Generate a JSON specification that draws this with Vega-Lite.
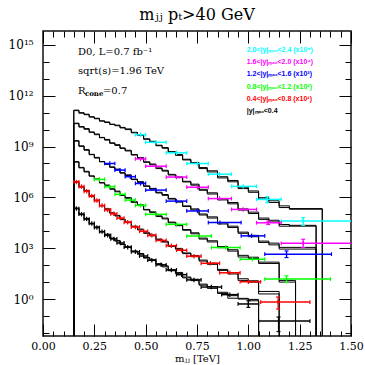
{
"$schema": "https://vega.github.io/schema/vega-lite/v6.json",
"width": 308, "height": 305,
"autosize": {"type": "none"},
"padding": {"left": 43, "top": 31, "right": 14, "bottom": 29},
"background": "white",
"config": {"view": {"stroke": "#111", "strokeWidth": 1.5}, "font": "DejaVu Serif", "axis": {"grid": false, "domain": false, "tickColor": "black", "tickWidth": 1}},
"title": {"text": "mⱼⱼ  pₜ>40 GeV", "fontSize": 16, "fontWeight": "normal", "font": "DejaVu Serif", "offset": 8, "color": "black"},
"datasets": {
"hist": [
{"g":0,"x":0.15,"a":1e-5,"b":1e-5},{"g":0,"x":0.15,"a":2.19e5,"b":2.34e5},{"g":0,"x":0.175,"a":1.02e5,"b":9.55e4},{"g":0,"x":0.2,"a":5.25e4,"b":5.75e4},{"g":0,"x":0.225,"a":2.88e4,"b":2.75e4},{"g":0,"x":0.25,"a":1.66e4,"b":1.82e4},{"g":0,"x":0.275,"a":9550,"b":9120},{"g":0,"x":0.3,"a":6030,"b":6760},{"g":0,"x":0.325,"a":3980,"b":3720},{"g":0,"x":0.35,"a":2630,"b":2880},{"g":0,"x":0.375,"a":1740,"b":1660},{"g":0,"x":0.4,"a":1120,"b":1230},{"g":0,"x":0.43,"a":692,"b":646},{"g":0,"x":0.46,"a":437,"b":490},{"g":0,"x":0.49,"a":282,"b":263},{"g":0,"x":0.52,"a":186,"b":209},{"g":0,"x":0.55,"a":123,"b":112},{"g":0,"x":0.58,"a":79.4,"b":91.2},{"g":0,"x":0.61,"a":51.3,"b":46.8},{"g":0,"x":0.645,"a":31.6,"b":37.2},{"g":0,"x":0.68,"a":20.0,"b":17.8},{"g":0,"x":0.72,"a":12.3,"b":14.8},{"g":0,"x":0.76,"a":7.59,"b":6.61},{"g":0,"x":0.8,"a":4.27,"b":5.5},{"g":0,"x":0.85,"a":2.51,"b":2.14},{"g":0,"x":0.9,"a":1.58,"b":1.12},{"g":0,"x":0.95,"a":1.0,"b":1.1},{"g":0,"x":1.0,"a":0.794,"b":0.955},{"g":0,"x":1.05,"a":1e-5,"b":1e-5},
{"g":1,"x":0.15,"a":1e-5,"b":1e-5},{"g":1,"x":0.15,"a":7.94e6,"b":8.51e6},{"g":1,"x":0.175,"a":4.37e6,"b":4.07e6},{"g":1,"x":0.2,"a":2.29e6,"b":2.51e6},{"g":1,"x":0.225,"a":1.2e6,"b":1.15e6},{"g":1,"x":0.25,"a":6.31e5,"b":6.92e5},{"g":1,"x":0.275,"a":3.31e5,"b":3.16e5},{"g":1,"x":0.3,"a":1.91e5,"b":2.14e5},{"g":1,"x":0.325,"a":1.23e5,"b":1.15e5},{"g":1,"x":0.35,"a":7.94e4,"b":8.71e4},{"g":1,"x":0.375,"a":5.13e4,"b":4.9e4},{"g":1,"x":0.4,"a":3.24e4,"b":3.55e4},{"g":1,"x":0.43,"a":2.0e4,"b":1.86e4},{"g":1,"x":0.46,"a":1.2e4,"b":1.35e4},{"g":1,"x":0.49,"a":8130,"b":7590},{"g":1,"x":0.52,"a":5370,"b":6030},{"g":1,"x":0.55,"a":3470,"b":3160},{"g":1,"x":0.58,"a":2290,"b":2570},{"g":1,"x":0.61,"a":1410,"b":1290},{"g":1,"x":0.645,"a":871,"b":977},{"g":1,"x":0.68,"a":525,"b":479},{"g":1,"x":0.72,"a":316,"b":363},{"g":1,"x":0.76,"a":200,"b":174},{"g":1,"x":0.8,"a":112,"b":132},{"g":1,"x":0.85,"a":56.2,"b":49.0},{"g":1,"x":0.9,"a":30.2,"b":36.3},{"g":1,"x":0.95,"a":15.8,"b":12.6},{"g":1,"x":1.0,"a":10.0,"b":12.0},{"g":1,"x":1.05,"a":2.0,"b":2.82},{"g":1,"x":1.15,"a":1e-5,"b":1e-5},
{"g":2,"x":0.15,"a":1e-5,"b":1e-5},{"g":2,"x":0.15,"a":1.2e8,"b":1.29e8},{"g":2,"x":0.175,"a":5.89e7,"b":5.5e7},{"g":2,"x":0.2,"a":3.16e7,"b":3.47e7},{"g":2,"x":0.225,"a":1.86e7,"b":1.78e7},{"g":2,"x":0.25,"a":1.12e7,"b":1.23e7},{"g":2,"x":0.275,"a":7.41e6,"b":7.08e6},{"g":2,"x":0.3,"a":4.9e6,"b":5.37e6},{"g":2,"x":0.325,"a":3.24e6,"b":3.02e6},{"g":2,"x":0.35,"a":2.14e6,"b":2.34e6},{"g":2,"x":0.375,"a":1.38e6,"b":1.29e6},{"g":2,"x":0.4,"a":8.91e5,"b":9.77e5},{"g":2,"x":0.43,"a":5.5e5,"b":5.13e5},{"g":2,"x":0.46,"a":3.24e5,"b":3.63e5},{"g":2,"x":0.49,"a":1.95e5,"b":1.82e5},{"g":2,"x":0.52,"a":1.26e5,"b":1.41e5},{"g":2,"x":0.55,"a":8.13e4,"b":7.41e4},{"g":2,"x":0.58,"a":5.37e4,"b":6.03e4},{"g":2,"x":0.61,"a":3.47e4,"b":3.16e4},{"g":2,"x":0.645,"a":2.14e4,"b":2.4e4},{"g":2,"x":0.68,"a":1.26e4,"b":1.15e4},{"g":2,"x":0.72,"a":7080,"b":8130},{"g":2,"x":0.76,"a":3980,"b":3470},{"g":2,"x":0.8,"a":2340,"b":2750},{"g":2,"x":0.85,"a":1260,"b":1070},{"g":2,"x":0.9,"a":676,"b":813},{"g":2,"x":0.95,"a":380,"b":302},{"g":2,"x":1.0,"a":251,"b":295},{"g":2,"x":1.05,"a":126,"b":151},{"g":2,"x":1.15,"a":10.0,"b":12.6},{"g":2,"x":1.23,"a":1e-5,"b":1e-5},
{"g":3,"x":0.15,"a":1e-5,"b":1e-5},{"g":3,"x":0.15,"a":2.09e9,"b":2.24e9},{"g":3,"x":0.175,"a":1.1e9,"b":1.02e9},{"g":3,"x":0.2,"a":6.03e8,"b":6.61e8},{"g":3,"x":0.225,"a":3.47e8,"b":3.31e8},{"g":3,"x":0.25,"a":2.09e8,"b":2.29e8},{"g":3,"x":0.275,"a":1.32e8,"b":1.26e8},{"g":3,"x":0.3,"a":8.91e7,"b":9.77e7},{"g":3,"x":0.325,"a":6.31e7,"b":5.89e7},{"g":3,"x":0.35,"a":4.27e7,"b":4.68e7},{"g":3,"x":0.375,"a":2.88e7,"b":2.69e7},{"g":3,"x":0.4,"a":1.95e7,"b":2.14e7},{"g":3,"x":0.43,"a":1.2e7,"b":1.12e7},{"g":3,"x":0.46,"a":7.59e6,"b":8.51e6},{"g":3,"x":0.49,"a":4.79e6,"b":4.47e6},{"g":3,"x":0.52,"a":3.02e6,"b":3.39e6},{"g":3,"x":0.55,"a":2.0e6,"b":1.82e6},{"g":3,"x":0.58,"a":1.32e6,"b":1.48e6},{"g":3,"x":0.61,"a":8.71e5,"b":7.94e5},{"g":3,"x":0.645,"a":5.25e5,"b":5.89e5},{"g":3,"x":0.68,"a":3.16e5,"b":2.88e5},{"g":3,"x":0.72,"a":1.82e5,"b":2.09e5},{"g":3,"x":0.76,"a":1.05e5,"b":9.12e4},{"g":3,"x":0.8,"a":6.03e4,"b":7.08e4},{"g":3,"x":0.85,"a":3.16e4,"b":2.69e4},{"g":3,"x":0.9,"a":1.66e4,"b":2.0e4},{"g":3,"x":0.95,"a":8910,"b":7590},{"g":3,"x":1.0,"a":4790,"b":5750},{"g":3,"x":1.05,"a":2630,"b":2190},{"g":3,"x":1.1,"a":1580,"b":2000},{"g":3,"x":1.15,"a":891,"b":1120},{"g":3,"x":1.33,"a":1e-5,"b":1e-5},
{"g":4,"x":0.15,"a":1e-5,"b":1e-5},{"g":4,"x":0.15,"a":2.24e10,"b":2.4e10},{"g":4,"x":0.175,"a":1.51e10,"b":1.41e10},{"g":4,"x":0.2,"a":1.05e10,"b":1.15e10},{"g":4,"x":0.225,"a":7.24e9,"b":6.92e9},{"g":4,"x":0.25,"a":5.01e9,"b":5.5e9},{"g":4,"x":0.275,"a":3.47e9,"b":3.31e9},{"g":4,"x":0.3,"a":2.4e9,"b":2.63e9},{"g":4,"x":0.325,"a":1.66e9,"b":1.55e9},{"g":4,"x":0.35,"a":1.17e9,"b":1.29e9},{"g":4,"x":0.375,"a":8.32e8,"b":7.76e8},{"g":4,"x":0.4,"a":5.5e8,"b":6.03e8},{"g":4,"x":0.43,"a":3.39e8,"b":3.16e8},{"g":4,"x":0.46,"a":2.0e8,"b":2.24e8},{"g":4,"x":0.49,"a":1.26e8,"b":1.17e8},{"g":4,"x":0.52,"a":8.32e7,"b":9.33e7},{"g":4,"x":0.55,"a":5.5e7,"b":5.01e7},{"g":4,"x":0.58,"a":3.55e7,"b":3.98e7},{"g":4,"x":0.61,"a":2.29e7,"b":2.09e7},{"g":4,"x":0.645,"a":1.45e7,"b":1.62e7},{"g":4,"x":0.68,"a":8.91e6,"b":8.13e6},{"g":4,"x":0.72,"a":5.25e6,"b":6.03e6},{"g":4,"x":0.76,"a":3.02e6,"b":2.63e6},{"g":4,"x":0.8,"a":1.58e6,"b":1.86e6},{"g":4,"x":0.85,"a":8.32e5,"b":7.08e5},{"g":4,"x":0.9,"a":4.17e5,"b":5.01e5},{"g":4,"x":0.95,"a":2.09e5,"b":1.78e5},{"g":4,"x":1.0,"a":1.12e5,"b":1.35e5},{"g":4,"x":1.05,"a":6.03e4,"b":5.01e4},{"g":4,"x":1.1,"a":3.55e4,"b":4.47e4},{"g":4,"x":1.15,"a":2.51e4,"b":2.0e4},{"g":4,"x":1.2,"a":2.0e4,"b":2.24e4},{"g":4,"x":1.33,"a":1e-5,"b":1e-5},
{"g":5,"x":0.15,"a":1e-5,"b":1e-5},{"g":5,"x":0.15,"a":1.32e11,"b":1.41e11},{"g":5,"x":0.175,"a":1.0e11,"b":9.33e10},{"g":5,"x":0.2,"a":7.59e10,"b":8.13e10},{"g":5,"x":0.225,"a":5.75e10,"b":5.5e10},{"g":5,"x":0.25,"a":4.37e10,"b":4.68e10},{"g":5,"x":0.275,"a":3.31e10,"b":3.16e10},{"g":5,"x":0.3,"a":2.63e10,"b":2.82e10},{"g":5,"x":0.325,"a":2.09e10,"b":2.0e10},{"g":5,"x":0.35,"a":1.7e10,"b":1.82e10},{"g":5,"x":0.375,"a":1.35e10,"b":1.26e10},{"g":5,"x":0.4,"a":1.0e10,"b":1.1e10},{"g":5,"x":0.43,"a":6.92e9,"b":6.46e9},{"g":5,"x":0.46,"a":4.57e9,"b":5.01e9},{"g":5,"x":0.49,"a":2.88e9,"b":2.69e9},{"g":5,"x":0.52,"a":1.86e9,"b":2.04e9},{"g":5,"x":0.55,"a":1.2e9,"b":1.12e9},{"g":5,"x":0.58,"a":7.94e8,"b":8.71e8},{"g":5,"x":0.61,"a":5.01e8,"b":4.57e8},{"g":5,"x":0.645,"a":3.02e8,"b":3.39e8},{"g":5,"x":0.68,"a":1.78e8,"b":1.62e8},{"g":5,"x":0.72,"a":1.0e8,"b":1.15e8},{"g":5,"x":0.76,"a":5.75e7,"b":5.01e7},{"g":5,"x":0.8,"a":3.16e7,"b":3.72e7},{"g":5,"x":0.85,"a":1.66e7,"b":1.41e7},{"g":5,"x":0.9,"a":8.32e6,"b":1.0e7},{"g":5,"x":0.95,"a":3.98e6,"b":3.31e6},{"g":5,"x":1.0,"a":2.0e6,"b":2.4e6},{"g":5,"x":1.05,"a":9.55e5,"b":7.94e5},{"g":5,"x":1.1,"a":5.01e5,"b":6.31e5},{"g":5,"x":1.15,"a":3.16e5,"b":2.51e5},{"g":5,"x":1.2,"a":2.0e5,"b":2.19e5},{"g":5,"x":1.36,"a":1e-5,"b":1e-5}
],
"pts": [
{"g":0,"lo":0.15,"hi":0.175,"m":0.1625,"v":2.19e5},{"g":0,"lo":0.175,"hi":0.2,"m":0.1875,"v":1.02e5},{"g":0,"lo":0.2,"hi":0.225,"m":0.2125,"v":5.25e4},{"g":0,"lo":0.225,"hi":0.25,"m":0.2375,"v":2.88e4},{"g":0,"lo":0.25,"hi":0.275,"m":0.2625,"v":1.66e4},{"g":0,"lo":0.275,"hi":0.3,"m":0.2875,"v":9550},{"g":0,"lo":0.3,"hi":0.33,"m":0.315,"v":5750},{"g":0,"lo":0.33,"hi":0.36,"m":0.345,"v":3550},{"g":0,"lo":0.36,"hi":0.395,"m":0.3775,"v":2040},{"g":0,"lo":0.395,"hi":0.43,"m":0.4125,"v":1150},{"g":0,"lo":0.43,"hi":0.47,"m":0.45,"v":617},{"g":0,"lo":0.47,"hi":0.51,"m":0.49,"v":347},{"g":0,"lo":0.51,"hi":0.55,"m":0.53,"v":195},{"g":0,"lo":0.55,"hi":0.6,"m":0.575,"v":105},{"g":0,"lo":0.6,"hi":0.65,"m":0.625,"v":52.5},{"g":0,"lo":0.65,"hi":0.7,"m":0.675,"v":27.5},{"g":0,"lo":0.7,"hi":0.77,"m":0.735,"v":13.5},{"g":0,"lo":0.77,"hi":0.87,"m":0.82,"v":5.13},{"g":0,"lo":0.87,"hi":0.95,"m":0.91,"v":1.82},{"g":0,"lo":0.95,"hi":1.05,"m":1.0,"v":0.513},{"g":0,"lo":1.05,"hi":1.3,"m":1.147,"v":0.05},
{"g":1,"lo":0.15,"hi":0.175,"m":0.1625,"v":8.13e6},{"g":1,"lo":0.175,"hi":0.2,"m":0.1875,"v":4.37e6},{"g":1,"lo":0.2,"hi":0.225,"m":0.2125,"v":2.29e6},{"g":1,"lo":0.225,"hi":0.25,"m":0.2375,"v":1.23e6},{"g":1,"lo":0.25,"hi":0.275,"m":0.2625,"v":6.46e5},{"g":1,"lo":0.275,"hi":0.3,"m":0.2875,"v":3.31e5},{"g":1,"lo":0.3,"hi":0.33,"m":0.315,"v":1.82e5},{"g":1,"lo":0.33,"hi":0.36,"m":0.345,"v":1.07e5},{"g":1,"lo":0.36,"hi":0.395,"m":0.3775,"v":6.03e4},{"g":1,"lo":0.395,"hi":0.43,"m":0.4125,"v":3.39e4},{"g":1,"lo":0.43,"hi":0.47,"m":0.45,"v":1.78e4},{"g":1,"lo":0.47,"hi":0.51,"m":0.49,"v":1.0e4},{"g":1,"lo":0.51,"hi":0.55,"m":0.53,"v":5750},{"g":1,"lo":0.55,"hi":0.6,"m":0.575,"v":2880},{"g":1,"lo":0.6,"hi":0.65,"m":0.625,"v":1410},{"g":1,"lo":0.65,"hi":0.7,"m":0.675,"v":759},{"g":1,"lo":0.7,"hi":0.77,"m":0.735,"v":339},{"g":1,"lo":0.77,"hi":0.86,"m":0.815,"v":129},{"g":1,"lo":0.86,"hi":0.96,"m":0.91,"v":35.5},{"g":1,"lo":0.96,"hi":1.06,"m":1.0,"v":10.5},{"g":1,"lo":1.06,"hi":1.3,"m":1.145,"v":0.66},
{"g":2,"lo":0.25,"hi":0.3,"m":0.275,"v":1.15e7},{"g":2,"lo":0.3,"hi":0.35,"m":0.325,"v":4.27e6},{"g":2,"lo":0.35,"hi":0.4,"m":0.375,"v":1.51e6},{"g":2,"lo":0.4,"hi":0.45,"m":0.425,"v":6.92e5},{"g":2,"lo":0.45,"hi":0.5,"m":0.475,"v":3.39e5},{"g":2,"lo":0.5,"hi":0.6,"m":0.55,"v":1.0e5},{"g":2,"lo":0.6,"hi":0.7,"m":0.65,"v":2.57e4},{"g":2,"lo":0.7,"hi":0.82,"m":0.76,"v":5250},{"g":2,"lo":0.82,"hi":0.96,"m":0.89,"v":1100},{"g":2,"lo":0.96,"hi":1.08,"m":1.02,"v":224},{"g":2,"lo":1.08,"hi":1.4,"m":1.186,"v":15.1},
{"g":3,"lo":0.3,"hi":0.35,"m":0.325,"v":1.0e8},{"g":3,"lo":0.35,"hi":0.4,"m":0.375,"v":4.07e7},{"g":3,"lo":0.4,"hi":0.45,"m":0.425,"v":1.66e7},{"g":3,"lo":0.45,"hi":0.5,"m":0.475,"v":6.61e6},{"g":3,"lo":0.5,"hi":0.6,"m":0.55,"v":2.69e6},{"g":3,"lo":0.6,"hi":0.7,"m":0.65,"v":6.03e5},{"g":3,"lo":0.7,"hi":0.805,"m":0.752,"v":1.58e5},{"g":3,"lo":0.805,"hi":0.965,"m":0.862,"v":3.24e4},{"g":3,"lo":0.965,"hi":1.08,"m":1.016,"v":5370},{"g":3,"lo":1.08,"hi":1.405,"m":1.186,"v":447},
{"g":4,"lo":0.45,"hi":0.5,"m":0.475,"v":1.86e8},{"g":4,"lo":0.5,"hi":0.6,"m":0.55,"v":6.92e7},{"g":4,"lo":0.6,"hi":0.7,"m":0.65,"v":1.58e7},{"g":4,"lo":0.7,"hi":0.805,"m":0.752,"v":3.98e6},{"g":4,"lo":0.805,"hi":0.918,"m":0.86,"v":8.51e5},{"g":4,"lo":0.918,"hi":1.04,"m":0.975,"v":1.95e5},{"g":4,"lo":1.04,"hi":1.16,"m":1.097,"v":3.16e4},{"g":4,"lo":1.16,"hi":1.6,"m":1.267,"v":1950},
{"g":5,"lo":0.45,"hi":0.5,"m":0.475,"v":5.01e9},{"g":5,"lo":0.5,"hi":0.6,"m":0.55,"v":1.78e9},{"g":5,"lo":0.6,"hi":0.7,"m":0.65,"v":4.27e8},{"g":5,"lo":0.7,"hi":0.805,"m":0.752,"v":1.0e8},{"g":5,"lo":0.805,"hi":0.918,"m":0.86,"v":2.34e7},{"g":5,"lo":0.918,"hi":1.04,"m":0.975,"v":4.47e6},{"g":5,"lo":1.04,"hi":1.16,"m":1.092,"v":7.59e5},{"g":5,"lo":1.16,"hi":1.6,"m":1.267,"v":3.98e4}
],
"errs": [
{"g":0,"m":1.0,"vlo":0.324,"vhi":0.79},{"g":0,"m":1.147,"vlo":0.012,"vhi":0.087},
{"g":1,"m":1.145,"vlo":0.257,"vhi":1.32},
{"g":2,"m":1.186,"vlo":9.5,"vhi":23.4},
{"g":3,"m":1.186,"vlo":282,"vhi":692},
{"g":4,"m":1.097,"vlo":2.51e4,"vhi":3.98e4},{"g":4,"m":1.267,"vlo":1100,"vhi":3390},
{"g":5,"m":1.092,"vlo":4.9e5,"vhi":1.1e6},{"g":5,"m":1.267,"vlo":2.24e4,"vhi":6.46e4}
]
},
"resolve": {"axis": {"x": "independent", "y": "independent"}},
"layer": [
{"data": {"name": "hist"},
 "mark": {"type": "line", "interpolate": "step-after", "clip": true, "color": "black", "strokeWidth": 1},
 "encoding": {
  "x": {"field": "x", "type": "quantitative", "scale": {"domain": [0, 1.5], "nice": false, "zero": false},
        "axis": {"orient": "bottom", "ticks": false, "values": [0, 0.25, 0.5, 0.75, 1.0, 1.25, 1.5], "format": ".2f", "labelPadding": 4, "labelFont": "DejaVu Serif", "labelFontSize": 11, "labelColor": "black", "labelFlush": false, "title": "mⱼⱼ [TeV]", "titleFont": "DejaVu Serif", "titleFontSize": 10, "titleFontWeight": "normal", "titleColor": "black", "titleBaseline": "alphabetic", "titleY": 25}},
  "y": {"field": "a", "type": "quantitative", "scale": {"type": "log", "domain": [0.0066, 6.6e15], "nice": false},
        "axis": {"orient": "left", "ticks": false, "values": [1, 1000, 1e6, 1e9, 1e12, 1e15], "labelExpr": "datum.value == 1 ? '10⁰' : datum.value == 1000 ? '10³' : datum.value == 1e6 ? '10⁶' : datum.value == 1e9 ? '10⁹' : datum.value == 1e12 ? '10¹²' : '10¹⁵'", "labelPadding": 10, "labelFont": "DejaVu Serif", "labelFontSize": 12, "labelColor": "black", "labelFlush": false, "title": null}},
  "detail": {"field": "g", "type": "nominal"},
  "order": {"value": null}}},
{"data": {"name": "hist"},
 "mark": {"type": "line", "interpolate": "step-after", "clip": true, "color": "black", "strokeWidth": 1},
 "encoding": {
  "x": {"field": "x", "type": "quantitative", "axis": {"orient": "bottom", "labels": false, "tickSize": -12, "values": [0, 0.25, 0.5, 0.75, 1.0, 1.25, 1.5], "title": null}},
  "y": {"field": "b", "type": "quantitative", "axis": {"orient": "left", "labels": false, "tickSize": -12, "values": [1, 1000, 1e6, 1e9, 1e12, 1e15], "title": null}},
  "detail": {"field": "g", "type": "nominal"},
  "order": {"value": null}}},
{"data": {"name": "pts"},
 "mark": {"type": "rule", "clip": true, "strokeWidth": 1.5},
 "encoding": {
  "x": {"field": "lo", "type": "quantitative", "axis": {"orient": "top", "labels": false, "tickSize": -12, "values": [0, 0.25, 0.5, 0.75, 1.0, 1.25, 1.5], "title": null}},
  "x2": {"field": "hi"},
  "y": {"field": "v", "type": "quantitative", "axis": {"orient": "right", "labels": false, "tickSize": -12, "values": [1, 1000, 1e6, 1e9, 1e12, 1e15], "title": null}},
  "color": {"field": "g", "type": "nominal", "scale": {"domain": [0, 1, 2, 3, 4, 5], "range": ["#000000", "#ff0000", "#00ff00", "#0000ff", "#ff00ff", "#00ffff"]}, "legend": null}}},
{"data": {"name": "pts"},
 "mark": {"type": "point", "shape": "M0,-1L0,1", "filled": false, "size": 20, "strokeWidth": 1.2, "opacity": 1, "clip": true},
 "encoding": {
  "x": {"field": "m", "type": "quantitative", "axis": {"orient": "top", "labels": false, "tickSize": -6, "values": [0.05,0.1,0.15,0.2,0.3,0.35,0.4,0.45,0.55,0.6,0.65,0.7,0.8,0.85,0.9,0.95,1.05,1.1,1.15,1.2,1.3,1.35,1.4,1.45], "title": null}},
  "y": {"field": "v", "type": "quantitative", "axis": {"orient": "right", "labels": false, "tickSize": -6, "values": [0.01,0.1,1,10,100,1000,1e4,1e5,1e6,1e7,1e8,1e9,1e10,1e11,1e12,1e13,1e14,1e15], "title": null}},
  "color": {"field": "g", "type": "nominal", "legend": null}}},
{"data": {"name": "pts"},
 "mark": {"type": "point", "shape": "M0,-1L0,1", "filled": false, "size": 14, "strokeWidth": 1.2, "opacity": 1, "clip": true},
 "encoding": {
  "x": {"field": "lo", "type": "quantitative", "axis": null},
  "y": {"field": "v", "type": "quantitative", "axis": null},
  "color": {"field": "g", "type": "nominal", "legend": null}}},
{"data": {"name": "pts"},
 "mark": {"type": "point", "shape": "M0,-1L0,1", "filled": false, "size": 14, "strokeWidth": 1.2, "opacity": 1, "clip": true},
 "encoding": {
  "x": {"field": "hi", "type": "quantitative", "axis": null},
  "y": {"field": "v", "type": "quantitative", "axis": null},
  "color": {"field": "g", "type": "nominal", "legend": null}}},
{"data": {"name": "errs"},
 "mark": {"type": "rule", "clip": true, "strokeWidth": 1.2},
 "encoding": {
  "x": {"field": "m", "type": "quantitative", "axis": {"orient": "bottom", "labels": false, "tickSize": -5, "values": [0.05,0.1,0.15,0.2,0.3,0.35,0.4,0.45,0.55,0.6,0.65,0.7,0.8,0.85,0.9,0.95,1.05,1.1,1.15,1.2,1.3,1.35,1.4,1.45], "title": null}},
  "y": {"field": "vlo", "type": "quantitative", "axis": {"orient": "left", "labels": false, "tickSize": -6, "values": [0.01,0.1,1,10,100,1000,1e4,1e5,1e6,1e7,1e8,1e9,1e10,1e11,1e12,1e13,1e14,1e15], "title": null}},
  "y2": {"field": "vhi"},
  "color": {"field": "g", "type": "nominal", "legend": null}}},
{"data": {"name": "errs"},
 "mark": {"type": "point", "shape": "M-1,0L1,0", "filled": false, "size": 16, "strokeWidth": 1.2, "opacity": 1, "clip": true},
 "encoding": {
  "x": {"field": "m", "type": "quantitative", "axis": null},
  "y": {"field": "vlo", "type": "quantitative", "axis": null},
  "color": {"field": "g", "type": "nominal", "legend": null}}},
{"data": {"name": "errs"},
 "mark": {"type": "point", "shape": "M-1,0L1,0", "filled": false, "size": 16, "strokeWidth": 1.2, "opacity": 1, "clip": true},
 "encoding": {
  "x": {"field": "m", "type": "quantitative", "axis": null},
  "y": {"field": "vhi", "type": "quantitative", "axis": null},
  "color": {"field": "g", "type": "nominal", "legend": null}}},
{"data": {"values": [{}]},
 "mark": {"type": "text", "align": "left", "baseline": "middle", "font": "DejaVu Serif", "fontSize": 10, "color": "black", "text": "D0, L=0.7 fb⁻¹"},
 "encoding": {"x": {"datum": 0.17, "type": "quantitative", "axis": null}, "y": {"datum": 3.9e14, "type": "quantitative", "axis": null}}},
{"data": {"values": [{}]},
 "mark": {"type": "text", "align": "left", "baseline": "middle", "font": "DejaVu Serif", "fontSize": 10, "color": "black", "text": "sqrt(s)=1.96 TeV"},
 "encoding": {"x": {"datum": 0.17, "type": "quantitative", "axis": null}, "y": {"datum": 2.7e13, "type": "quantitative", "axis": null}}},
{"data": {"values": [{}]},
 "mark": {"type": "text", "align": "left", "baseline": "middle", "font": "DejaVu Serif", "fontSize": 10, "color": "black", "text": "R"},
 "encoding": {"x": {"datum": 0.17, "type": "quantitative", "axis": null}, "y": {"datum": 1.78e12, "type": "quantitative", "axis": null}}},
{"data": {"values": [{}]},
 "mark": {"type": "text", "align": "left", "baseline": "middle", "font": "DejaVu Serif", "fontSize": 7, "fontWeight": "bold", "color": "black", "text": "cone"},
 "encoding": {"x": {"datum": 0.204, "type": "quantitative", "axis": null}, "y": {"datum": 1.2e12, "type": "quantitative", "axis": null}}},
{"data": {"values": [{}]},
 "mark": {"type": "text", "align": "left", "baseline": "middle", "font": "DejaVu Serif", "fontSize": 10, "color": "black", "text": "=0.7"},
 "encoding": {"x": {"datum": 0.292, "type": "quantitative", "axis": null}, "y": {"datum": 1.78e12, "type": "quantitative", "axis": null}}},
{"data": {"values": [{}]},
 "mark": {"type": "text", "align": "left", "baseline": "middle", "font": "Liberation Sans", "fontSize": 7, "fontWeight": "bold", "color": "#00ffff", "text": "2.0<|y|ₘₐₓ<2.4 (x10⁵)"},
 "encoding": {"x": {"datum": 0.992, "type": "quantitative", "axis": null}, "y": {"datum": 4.8e14, "type": "quantitative", "axis": null}}},
{"data": {"values": [{}]},
 "mark": {"type": "text", "align": "left", "baseline": "middle", "font": "Liberation Sans", "fontSize": 7, "fontWeight": "bold", "color": "#ff00ff", "text": "1.6<|y|ₘₐₓ<2.0 (x10⁴)"},
 "encoding": {"x": {"datum": 0.992, "type": "quantitative", "axis": null}, "y": {"datum": 9.6e13, "type": "quantitative", "axis": null}}},
{"data": {"values": [{}]},
 "mark": {"type": "text", "align": "left", "baseline": "middle", "font": "Liberation Sans", "fontSize": 7, "fontWeight": "bold", "color": "#0000ff", "text": "1.2<|y|ₘₐₓ<1.6 (x10³)"},
 "encoding": {"x": {"datum": 0.992, "type": "quantitative", "axis": null}, "y": {"datum": 1.96e13, "type": "quantitative", "axis": null}}},
{"data": {"values": [{}]},
 "mark": {"type": "text", "align": "left", "baseline": "middle", "font": "Liberation Sans", "fontSize": 7, "fontWeight": "bold", "color": "#00ff00", "text": "0.8<|y|ₘₐₓ<1.2 (x10²)"},
 "encoding": {"x": {"datum": 0.992, "type": "quantitative", "axis": null}, "y": {"datum": 3.5e12, "type": "quantitative", "axis": null}}},
{"data": {"values": [{}]},
 "mark": {"type": "text", "align": "left", "baseline": "middle", "font": "Liberation Sans", "fontSize": 7, "fontWeight": "bold", "color": "#ff0000", "text": "0.4<|y|ₘₐₓ<0.8 (x10¹)"},
 "encoding": {"x": {"datum": 0.992, "type": "quantitative", "axis": null}, "y": {"datum": 6.4e11, "type": "quantitative", "axis": null}}},
{"data": {"values": [{}]},
 "mark": {"type": "text", "align": "left", "baseline": "middle", "font": "Liberation Sans", "fontSize": 7, "fontWeight": "bold", "color": "#000000", "text": "|y|ₘₐₓ<0.4"},
 "encoding": {"x": {"datum": 0.992, "type": "quantitative", "axis": null}, "y": {"datum": 1.2e11, "type": "quantitative", "axis": null}}}
]
}
